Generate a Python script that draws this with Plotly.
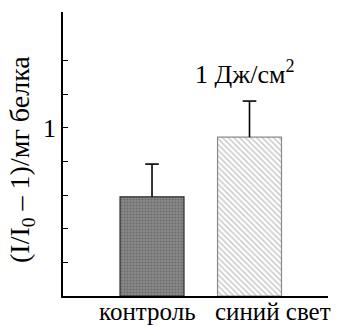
import plotly.graph_objects as go

# Data
categories = ["контроль", "синий свет"]
values = [0.59, 0.945]
errors = [0.195, 0.215]
x_pos = [0, 1]
ytick_vals = [0.2, 0.4, 0.6, 0.8, 1.0, 1.2, 1.4]
ytick_text = ["", "", "", "", "1", "", ""]

serif = "Liberation Serif"
cap = 0.07  # half-width of the error-bar cap, in x units

fig = go.Figure()

fig.add_trace(go.Bar(
    x=[x_pos[0]], y=[values[0]], width=0.656,
    marker=dict(color="#7c7c7c",
                line=dict(color="#2a2a2a", width=1.2),
                pattern=dict(shape=".", fgcolor="#4c4c4c", bgcolor="#8a8a8a",
                             size=3, solidity=0.4)),
    showlegend=False,
))
fig.add_trace(go.Bar(
    x=[x_pos[1]], y=[values[1]], width=0.656,
    marker=dict(color="white",
                line=dict(color="#8a8a8a", width=1.2),
                pattern=dict(shape="\\", fgcolor="#8a8a8a", bgcolor="white",
                             size=4, solidity=0.35)),
    showlegend=False,
))

# one-sided (upper) error bars: stem from the bar top plus a cap
ex, ey = [], []
for xi, v, e in zip(x_pos, values, errors):
    ex += [xi, xi, None, xi - cap, xi + cap, None]
    ey += [v, v + e, None, v + e, v + e, None]
fig.add_trace(go.Scatter(x=ex, y=ey, mode="lines",
                         line=dict(color="black", width=1.6),
                         showlegend=False, hoverinfo="skip"))

fig.update_layout(
    width=337, height=326,
    margin=dict(l=63, r=9, t=12, b=30),
    paper_bgcolor="white", plot_bgcolor="white",
    font=dict(family=serif, color="black", size=26),
    xaxis=dict(range=[-0.913, 1.805], showticklabels=False, ticks="",
               showgrid=False, zeroline=False, showline=True,
               linecolor="black", linewidth=1.5),
    yaxis=dict(range=[0, 1.69], tickvals=ytick_vals, ticktext=ytick_text,
               ticks="inside", ticklen=5, tickwidth=1.3, tickcolor="black",
               tickfont=dict(family=serif, size=26),
               showgrid=False, zeroline=False, showline=True,
               linecolor="black", linewidth=1.5),
    annotations=[
        dict(text="(I/I<sub>0</sub> – 1)/мг белка", textangle=-90,
             xref="paper", yref="paper", x=(21 - 63) / 265, y=(296 - 160) / 284,
             xanchor="center", yanchor="middle", showarrow=False,
             font=dict(family=serif, size=28)),
        dict(text="1 Дж/см<sup>2</sup>", xref="paper", yref="paper",
             x=(245 - 63) / 265, y=(296 - 72) / 284,
             xanchor="center", yanchor="middle", showarrow=False,
             font=dict(family=serif, size=26)),
        dict(text=categories[0], xref="paper", yref="paper",
             x=(147 - 63) / 265, y=(296 - 311) / 284,
             xanchor="center", yanchor="middle", showarrow=False,
             font=dict(family=serif, size=25), borderpad=0),
        dict(text=categories[1], xref="paper", yref="paper",
             x=(273 - 63) / 265, y=(296 - 311) / 284,
             xanchor="center", yanchor="middle", showarrow=False,
             font=dict(family=serif, size=25), borderpad=0),
    ],
)

fig.write_html("out.html")
